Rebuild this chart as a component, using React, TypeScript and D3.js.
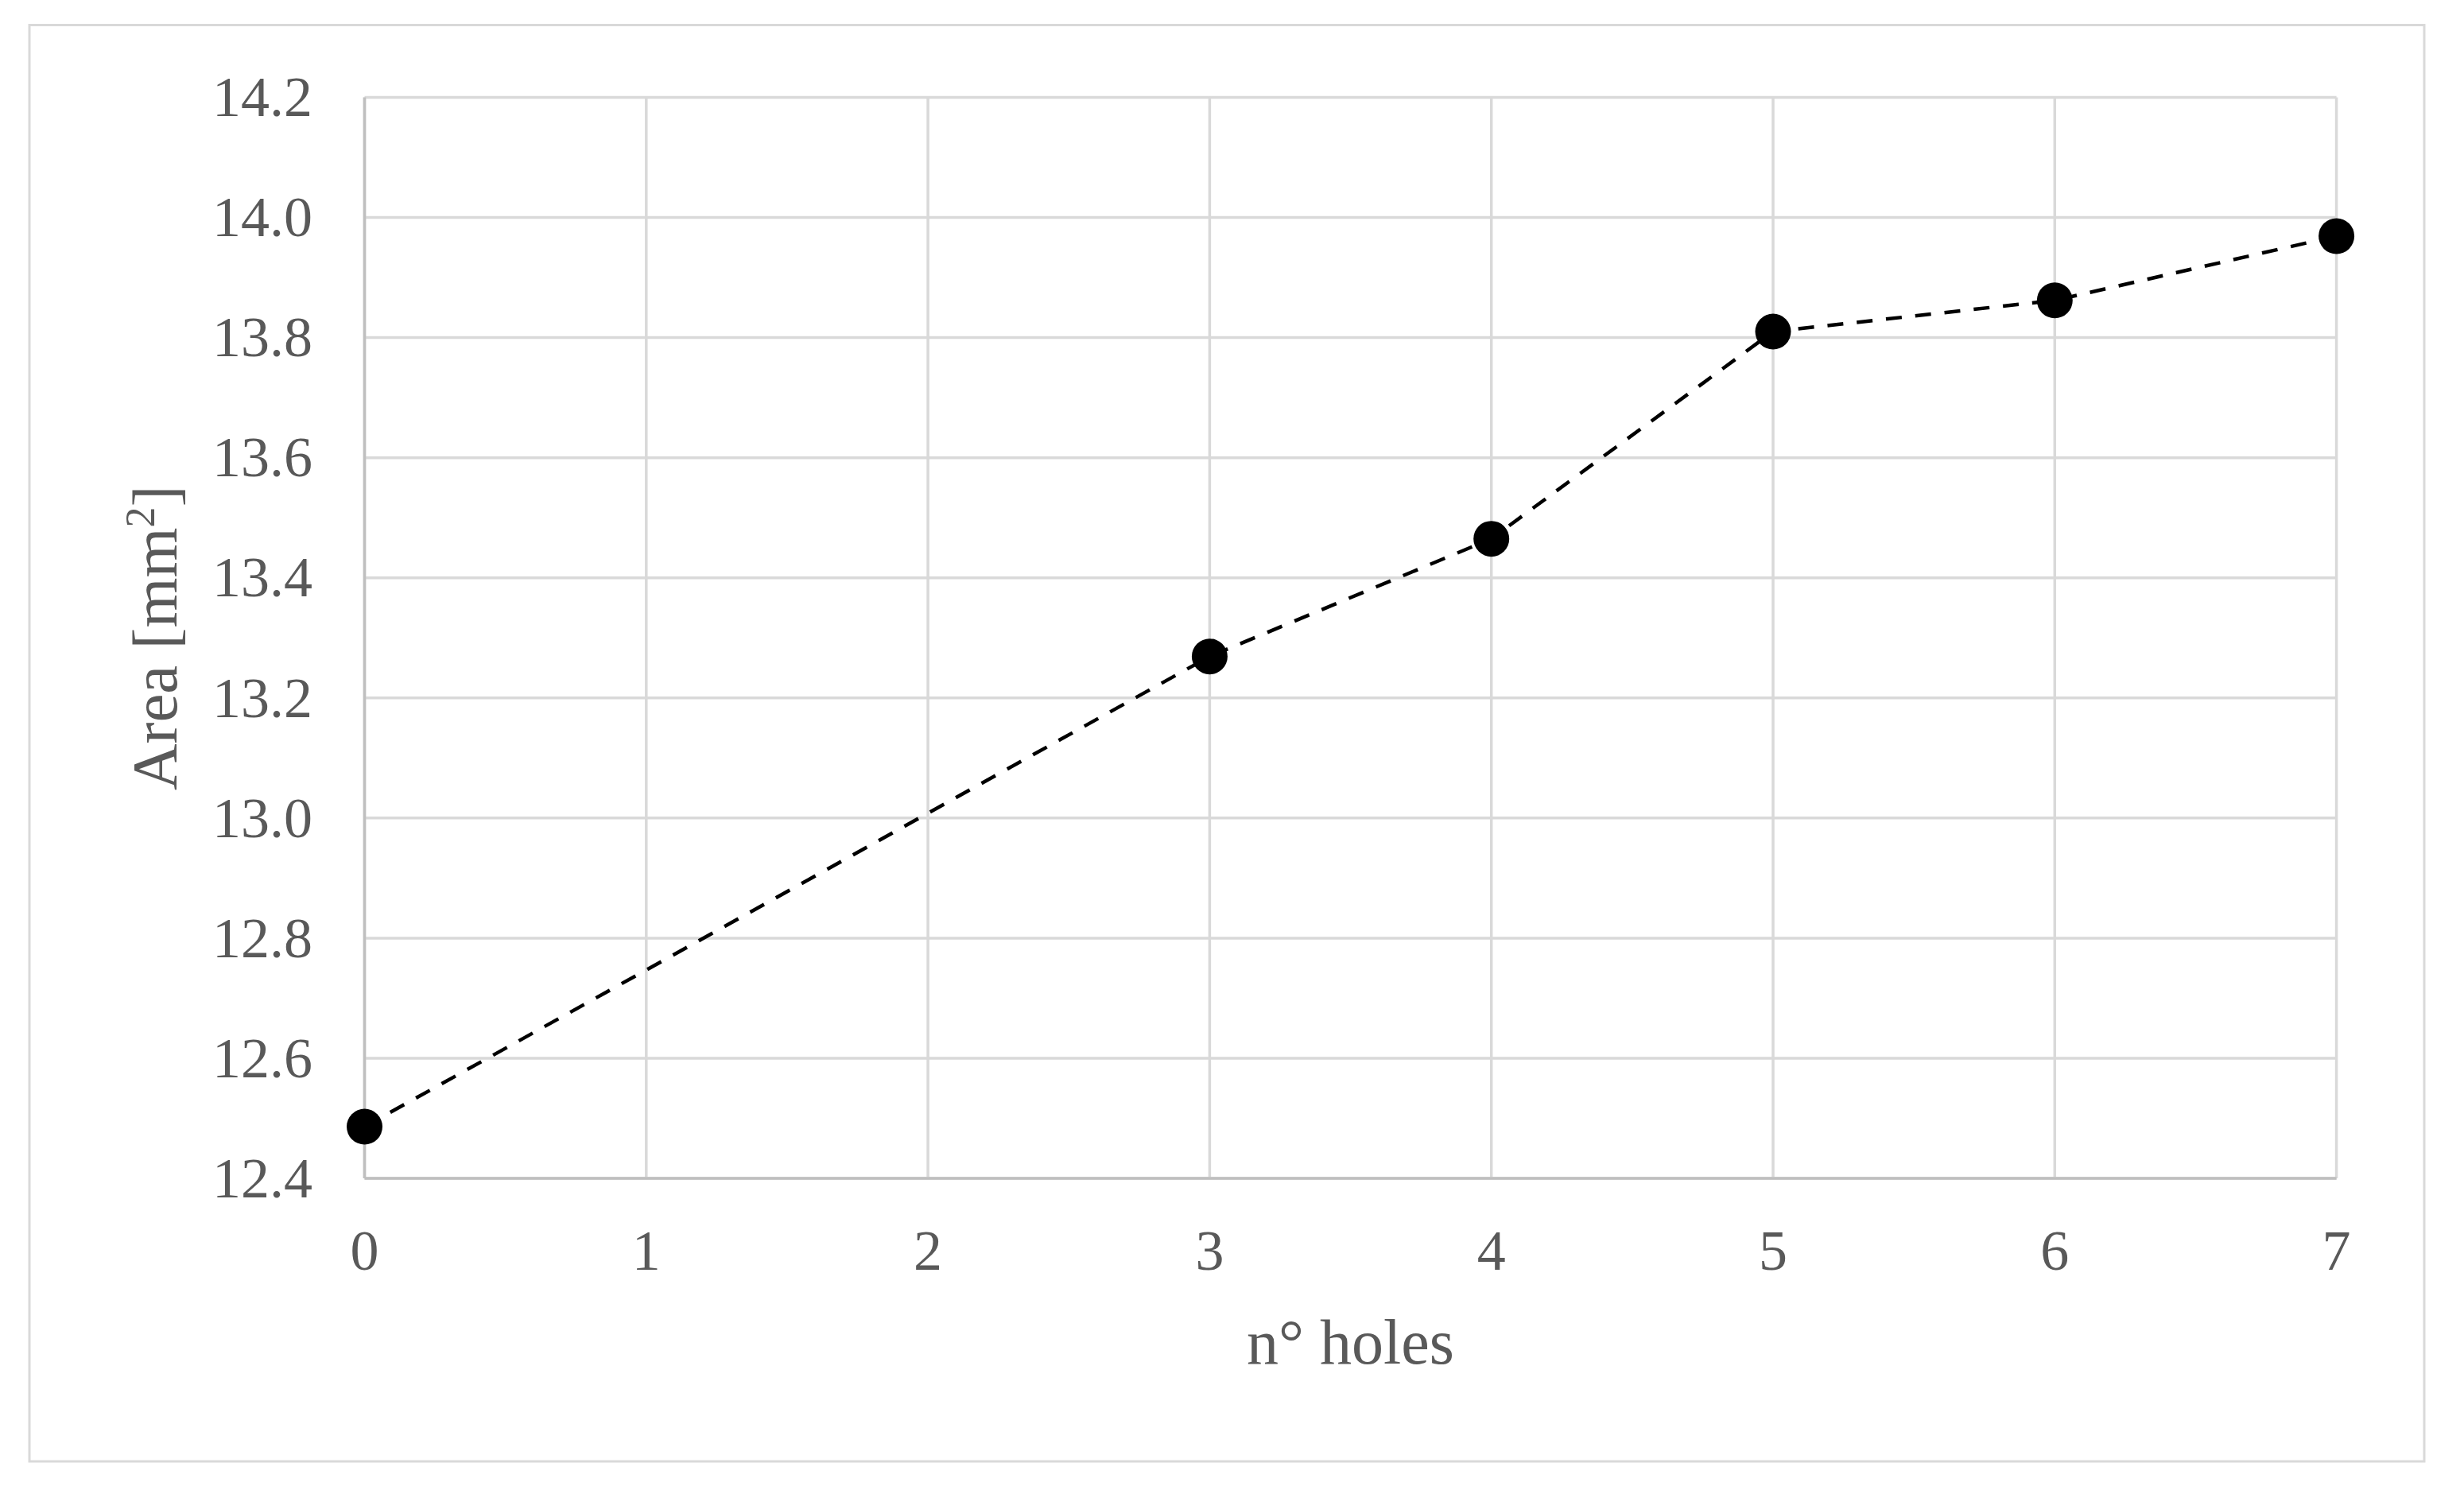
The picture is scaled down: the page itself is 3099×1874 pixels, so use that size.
import React from "react";
import * as d3 from "d3";

const holes = [0, 3, 4, 5, 6, 7];
const areas = [12.486, 13.269, 13.465, 13.81, 13.862, 13.969];
const xTicks = [0, 1, 2, 3, 4, 5, 6, 7];
const yTicks = [12.4, 12.6, 12.8, 13.0, 13.2, 13.4, 13.6, 13.8, 14.0, 14.2];

const W = 3099;
const H = 1874;
const FONT = "'Liberation Serif', 'Times New Roman', serif";

export default function App() {
  const left = 458.5, right = 2938.6, top = 122.5, bottom = 1482;
  const x = d3.scaleLinear().domain([0, 7]).range([left, right]);
  const y = d3.scaleLinear().domain([12.4, 14.2]).range([bottom, top]);
  const pts = holes.map((h, i) => [h, areas[i]] as [number, number]);
  const line = d3.line<[number, number]>().x(d => x(d[0])).y(d => y(d[1]));

  return (
    <svg width={W} height={H} style={{ position: "absolute", left: 0, top: 0, display: "block", background: "#fff" }}>
      <rect x={37} y={31.5} width={3049 - 37} height={1838 - 31.5} fill="#fff" stroke="#d9d9d9" strokeWidth={3} />
      {yTicks.map(t => (
        <line key={"gy" + t} x1={left} x2={right} y1={y(t)} y2={y(t)} stroke="#d9d9d9" strokeWidth={3.5} />
      ))}
      {xTicks.map(t => (
        <line key={"gx" + t} x1={x(t)} x2={x(t)} y1={top} y2={bottom} stroke="#d9d9d9" strokeWidth={3.5} />
      ))}
      <line x1={left} x2={left} y1={top} y2={bottom} stroke="#bfbfbf" strokeWidth={3.5} />
      <line x1={left} x2={right} y1={bottom} y2={bottom} stroke="#bfbfbf" strokeWidth={3.5} />
      {yTicks.map(t => (
        <text key={"ly" + t} x={393} y={y(t)} dy="0.33em" textAnchor="end" fontFamily={FONT} fontSize={72} fill="#595959">
          {t.toFixed(1)}
        </text>
      ))}
      {xTicks.map(t => (
        <text key={"lx" + t} x={x(t)} y={1597} textAnchor="middle" fontFamily={FONT} fontSize={72} fill="#595959">
          {t}
        </text>
      ))}
      <text x={(left + right) / 2} y={1715} textAnchor="middle" fontFamily={FONT} fontSize={80} fill="#595959">
        n° holes
      </text>
      <text transform={`translate(222, ${(top + bottom) / 2}) rotate(-90)`} textAnchor="middle" fontFamily={FONT} fontSize={81} fill="#595959">
        Area [mm<tspan dy={-28} fontSize={52}>2</tspan><tspan dy={28}>]</tspan>
      </text>
      <path d={line(pts) || ""} fill="none" stroke="#000" strokeWidth={4.5} strokeDasharray="20 17" />
      {pts.map((p, i) => (
        <circle key={"c" + i} cx={x(p[0])} cy={y(p[1])} r={22.5} fill="#000" />
      ))}
    </svg>
  );
}
